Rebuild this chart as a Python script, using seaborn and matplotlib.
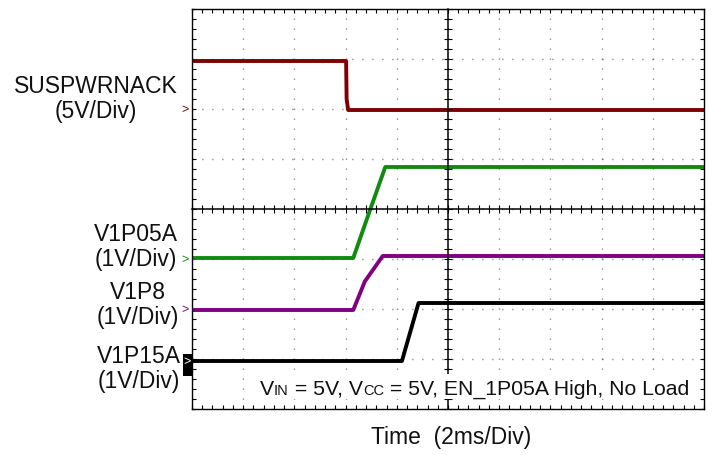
import numpy as np
import pandas as pd
import matplotlib
matplotlib.use("Agg")
import matplotlib.pyplot as plt
import seaborn as sns
from matplotlib.patches import Rectangle

# scope traces, time in ms, level in divisions from screen centre
channels = ["SUSPWRNACK", "V1P05A", "V1P8", "V1P15A"]
colors = ["#7f0000", "#0f8c0f", "#800080", "#000000"]

t_susp = [0, 6.02, 6.04, 6.1, 20]
v_susp = [2.96, 2.96, 2.2, 1.98, 1.98]
t_1p05 = [0, 6.3, 6.9, 7.55, 20]
v_1p05 = [-0.98, -0.98, -0.1, 0.84, 0.84]
t_1p8 = [0, 6.3, 6.75, 7.45, 20]
v_1p8 = [-2.02, -2.02, -1.45, -0.94, -0.94]
t_1p15 = [0, 8.2, 8.85, 20]
v_1p15 = [-3.04, -3.04, -1.88, -1.88]

label_text = ["SUSPWRNACK\n(5V/Div)", "V1P05A\n(1V/Div)", "V1P8\n(1V/Div)", "V1P15A\n(1V/Div)"]
ref_level = [2, -1, -2, -3]

# condition note, small pieces are the subscripts
note_parts = ["V", "IN", " = 5V, V", "CC", " = 5V, EN_1P05A High, No Load"]
note_small = [False, True, False, True, False]

frames = []
for name, t, v in zip(channels, [t_susp, t_1p05, t_1p8, t_1p15], [v_susp, v_1p05, v_1p8, v_1p15]):
    frames.append(pd.DataFrame({"t": t, "v": v, "ch": name}))
df = pd.concat(frames, ignore_index=True)

sns.set_theme(style="white")
plt.rcParams["font.family"] = ["Liberation Sans", "DejaVu Sans"]

W, H = 715, 456
fig = plt.figure(figsize=(W / 100, H / 100), dpi=100)
rect = [192 / W, 1 - 410 / H, 512 / W, 400 / H]
ax = fig.add_axes(rect)

sns.lineplot(data=df, x="t", y="v", hue="ch", palette=dict(zip(channels, colors)),
             estimator=None, sort=False, linewidth=2.8, legend=False, ax=ax)

ax.set_xlim(0, 20)
ax.set_ylim(-4, 4)
ax.set_xticks(np.arange(0, 20.01, 2))
ax.set_yticks(np.arange(-4, 4.01, 1))
ax.set_xticks(np.arange(0, 20.01, 0.4), minor=True)
ax.set_yticks(np.arange(-4, 4.01, 0.2), minor=True)
ax.tick_params(which="both", direction="in", length=3.2, width=0.8, color="black",
               bottom=True, left=True, top=True, right=True,
               labelbottom=False, labelleft=False)
ax.grid(True, which="major", color="#444444", linewidth=1.0, linestyle=(0, (0.6, 6.6)))
ax.set_xlabel("")
ax.set_ylabel("")
for s in ax.spines.values():
    s.set_color("black")
    s.set_linewidth(1.0)

# centre crosshair with its own ticks
ax2 = fig.add_axes(rect, sharex=ax, sharey=ax)
ax2.patch.set_visible(False)
ax2.spines["left"].set_position(("data", 10))
ax2.spines["bottom"].set_position(("data", 0))
ax2.spines["top"].set_visible(False)
ax2.spines["right"].set_visible(False)
for s in ("left", "bottom"):
    ax2.spines[s].set_color("black")
    ax2.spines[s].set_linewidth(1.1)
ax2.tick_params(which="both", direction="inout", length=6, width=0.8, color="black",
                bottom=True, left=True, labelbottom=False, labelleft=False)
ax2.grid(False)

def px(x, y):
    return x / W, 1 - y / H

label_pos = [(96, 99), (136, 247), (138, 305), (139, 369)]
for txt, (x, y) in zip(label_text, label_pos):
    fig.text(*px(x, y), txt, ha="center", va="center", fontsize=16.5,
             linespacing=1.1, color="#111111")

for c, lev in zip(colors[:3], ref_level[:3]):
    fig.text(*px(185, 210 - lev * 50), ">", ha="center", va="center",
             fontsize=9, color=c)
fig.add_artist(Rectangle(px(183, 377), 9 / W, 22 / H, transform=fig.transFigure,
                         facecolor="black", edgecolor="none", zorder=5))
fig.text(*px(187.5, 362), ">", ha="center", va="center", fontsize=9,
         color="white", zorder=6)

# note: pieces on a common baseline, right aligned, on white
renderer = fig.canvas.get_renderer()
pieces = []
for s, small in zip(note_parts, note_small):
    pieces.append(fig.text(0, 0, s, fontsize=10.5 if small else 15.3, va="baseline",
                           ha="left", color="#111111", zorder=8))
widths = [p.get_window_extent(renderer).width for p in pieces]
x = 689 - sum(widths)
fig.add_artist(Rectangle(px(x - 3, 400), (sum(widths) + 6) / W, 25 / H,
                         transform=fig.transFigure, facecolor="white",
                         edgecolor="none", zorder=7))
for p, w in zip(pieces, widths):
    p.set_position(px(x, 395))
    x += w

fig.text(*px(451, 438), "Time  (2ms/Div)", ha="center", va="center",
         fontsize=16.5, color="#111111")

fig.savefig("out.png", dpi=100)
